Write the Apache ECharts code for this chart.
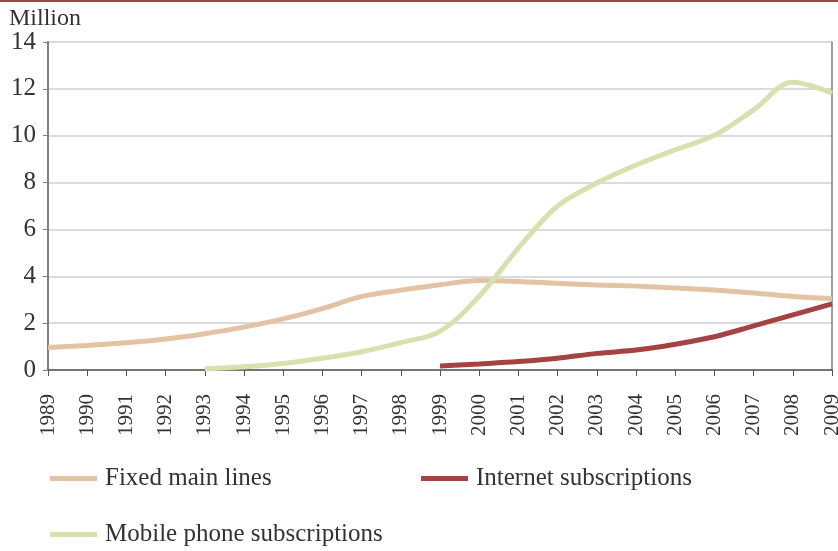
<!DOCTYPE html>
<html>
<head>
<meta charset="utf-8">
<script src="https://cdn.jsdelivr.net/npm/echarts@6/dist/echarts.min.js"></script>
<style>
  html, body { margin: 0; padding: 0; background: #fff; }
  #chart { width: 838px; height: 551px; }
</style>
</head>
<body>
<div id="chart"></div>
<script>
// Telecom subscriptions, millions, 1989-2009
const years = ['1989','1990','1991','1992','1993','1994','1995','1996','1997','1998','1999',
               '2000','2001','2002','2003','2004','2005','2006','2007','2008','2009'];
const fixedMainLines = [0.96, 1.05, 1.16, 1.32, 1.55, 1.83, 2.18, 2.62, 3.14, 3.41, 3.64,
                        3.82, 3.78, 3.7, 3.63, 3.58, 3.5, 3.41, 3.29, 3.14, 3.05];
const mobileSubs = [null, null, null, null, 0.05, 0.14, 0.28, 0.5, 0.78, 1.17, 1.65,
                    3.15, 5.2, 7.0, 7.98, 8.75, 9.4, 10.02, 11.1, 12.28, 11.82];
const internetSubs = [null, null, null, null, null, null, null, null, null, null, 0.17,
                      0.26, 0.36, 0.5, 0.71, 0.85, 1.1, 1.42, 1.88, 2.35, 2.82];
const yTicks = { min: 0, max: 14, interval: 2 };

const FONT = '"Liberation Serif", "DejaVu Serif", serif';
const TEXT = '#333';
const C_FIXED = '#e2c3a4';
const C_MOBILE = '#d6e2ad';
const C_NET = '#a54343';

const chart = echarts.init(document.getElementById('chart'), null, { renderer: 'canvas' });

function lineSeries(name, data, color) {
  return {
    name, type: 'line', data, smooth: 0.35, showSymbol: false, symbol: 'none',
    connectNulls: false,
    lineStyle: { color, width: 5 },
    itemStyle: { color },
    animation: false
  };
}

// one legend block per entry: two columns, second row below the first
function legendItem(name, left, top) {
  return {
    data: [name], orient: 'horizontal', left, top,
    icon: 'rect', itemWidth: 47, itemHeight: 5,
    textStyle: { fontFamily: FONT, fontSize: 25, color: TEXT, padding: [0, 0, 0, 3] }
  };
}

chart.setOption({
  backgroundColor: '#fff',
  animation: false,
  graphic: [{
    type: 'rect', left: 0, top: 0,
    shape: { width: 838, height: 2 },
    style: { fill: '#a04646' }
  }],
  title: {
    text: 'Million', left: 4, top: 2,
    textStyle: { fontFamily: FONT, fontSize: 24, fontWeight: 'normal', color: TEXT }
  },
  legend: [
    legendItem('Fixed main lines', 45, 461),
    legendItem('Internet subscriptions', 416, 461),
    legendItem('Mobile phone subscriptions', 45, 517)
  ],
  grid: { left: 48, right: 6, top: 42, bottom: 181, outerBoundsMode: 'none' },
  xAxis: {
    type: 'category', data: years, boundaryGap: false,
    axisLine: { lineStyle: { color: '#555', width: 1.5 } },
    axisTick: { show: true, length: 6, lineStyle: { color: '#555' } },
    axisLabel: {
      rotate: 90, margin: 24, interval: 0,
      fontFamily: FONT, fontSize: 21, color: TEXT
    },
    splitLine: { show: false }
  },
  yAxis: [{
    type: 'value', min: yTicks.min, max: yTicks.max, interval: yTicks.interval,
    axisLine: { show: true, lineStyle: { color: '#808080', width: 2 } },
    axisTick: { show: true, length: 5, lineStyle: { color: '#808080' } },
    axisLabel: { fontFamily: FONT, fontSize: 25, color: TEXT, margin: 12 },
    splitLine: { show: true, lineStyle: { color: '#cfcfcf', width: 1.5 } }
  }, {
    type: 'value', position: 'right', min: yTicks.min, max: yTicks.max, interval: yTicks.interval,
    axisLine: { show: true, lineStyle: { color: '#808080', width: 1.5 } },
    axisTick: { show: false }, axisLabel: { show: false }, splitLine: { show: false }
  }],
  series: [
    lineSeries('Fixed main lines', fixedMainLines, C_FIXED),
    lineSeries('Mobile phone subscriptions', mobileSubs, C_MOBILE),
    lineSeries('Internet subscriptions', internetSubs, C_NET)
  ]
});
</script>
</body>
</html>
